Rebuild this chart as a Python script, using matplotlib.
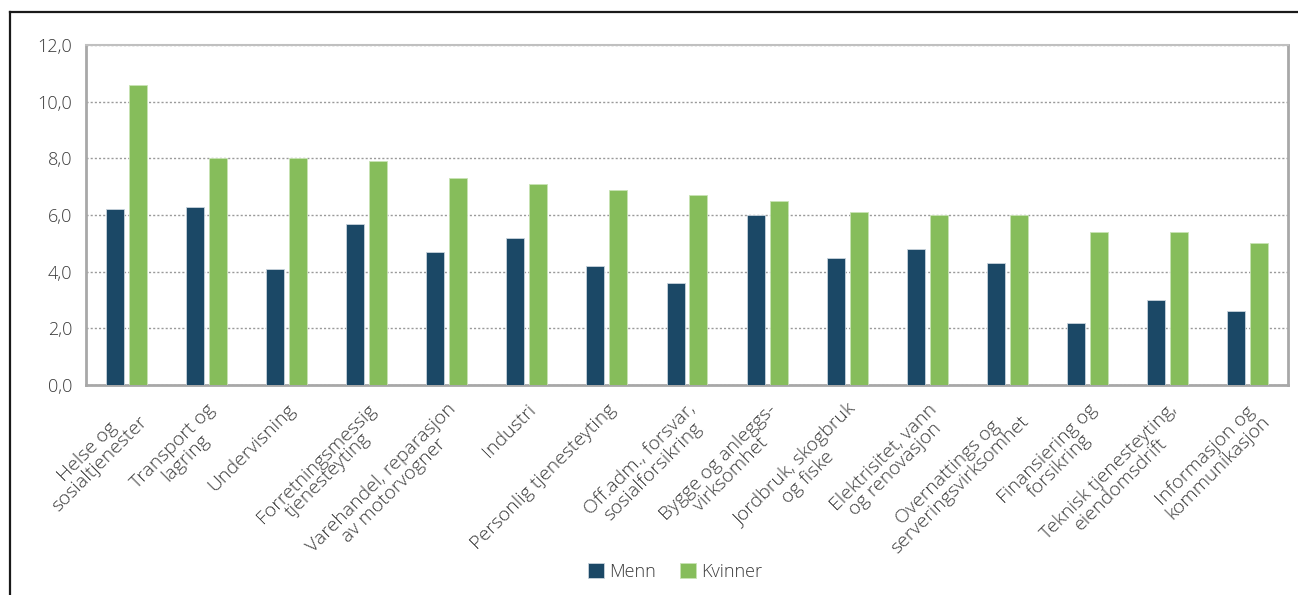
import numpy as np
import matplotlib.pyplot as plt
from matplotlib.lines import Line2D

plt.rcParams['font.family'] = ['Open Sans', 'DejaVu Sans']
plt.rcParams['font.weight'] = 'light'

# Data
kategorier = [
    'Helse og\nsosialtjenester',
    'Transport og\nlagring',
    'Undervisning',
    'Forretningsmessig\ntjenesteyting',
    'Varehandel, reparasjon\nav motorvogner',
    'Industri',
    'Personlig tjenesteyting',
    'Off.adm., forsvar,\nsosialforsikring',
    'Bygge og anleggs-\nvirksomhet',
    'Jordbruk, skogbruk\nog fiske',
    'Elektrisitet, vann\nog renovasjon',
    'Overnattings og\nserveringsvirksomhet',
    'Finansiering og\nforsikring',
    'Teknisk tjenesteyting,\neiendomsdrift',
    'Informasjon og\nkommunikasjon',
]
menn = [6.2, 6.3, 4.1, 5.7, 4.7, 5.2, 4.2, 3.6, 6.0, 4.5, 4.8, 4.3, 2.2, 3.0, 2.6]
kvinner = [10.6, 8.0, 8.0, 7.9, 7.3, 7.1, 6.9, 6.7, 6.5, 6.1, 6.0, 6.0, 5.4, 5.4, 5.0]
yticks = [0, 2, 4, 6, 8, 10, 12]

farge_menn = '#1b4866'
farge_kvinner = '#86bd5b'
tekst = '#3a3a3a'

fig = plt.figure(figsize=(12.98, 5.95), dpi=100)
ax = fig.add_axes([86 / 1298, 1 - 385 / 595, 1202 / 1298, 340 / 595])

x = np.arange(len(kategorier))
b = 0.225
ax.bar(x - 0.143, menn, width=b, color=farge_menn, edgecolor='#c8d3dc', linewidth=0.6, label='Menn', zorder=3)
ax.bar(x + 0.143, kvinner, width=b, color=farge_kvinner, edgecolor='#c9e3b5', linewidth=0.6, label='Kvinner', zorder=3)

ax.set_xlim(-0.5, len(kategorier) - 0.5)
ax.set_ylim(0, 12)
ax.set_yticks(yticks)
ax.set_yticklabels([f'{v:.1f}'.replace('.', ',') for v in yticks], fontsize=13, color=tekst)
ax.yaxis.grid(True, linestyle=(0, (1.5, 1.5)), color='#9a9a9a', linewidth=1, zorder=0)
ax.tick_params(axis='y', length=0, pad=10)
ax.tick_params(axis='x', length=0, pad=11)
ax.set_xticks(x)
ax.set_xticklabels(kategorier, rotation=45, ha='right', rotation_mode='anchor',
                   fontsize=14, color=tekst, multialignment='center', linespacing=0.95)

for s in ax.spines.values():
    s.set_color('#a8a8a8')
    s.set_linewidth(2)
ax.spines['top'].set_color('#c0c0c0')
ax.spines['top'].set_linewidth(1.5)

ax.legend(loc='center', bbox_to_anchor=(675 / 1298, 1 - 572 / 595), bbox_transform=fig.transFigure,
          ncol=2, frameon=False, fontsize=13, handlelength=0.9, handleheight=0.9,
          handletextpad=0.3, columnspacing=1.3, labelcolor=tekst)

# ramme rundt figuren
fig.add_artist(Line2D([10 / 1298, 10 / 1298], [0, 1 - 12 / 595], color='#1a1a1a', linewidth=1.6, transform=fig.transFigure))
fig.add_artist(Line2D([10 / 1298, 1], [1 - 12 / 595, 1 - 12 / 595], color='#1a1a1a', linewidth=1.6, transform=fig.transFigure))

plt.savefig('out.png', dpi=100)
